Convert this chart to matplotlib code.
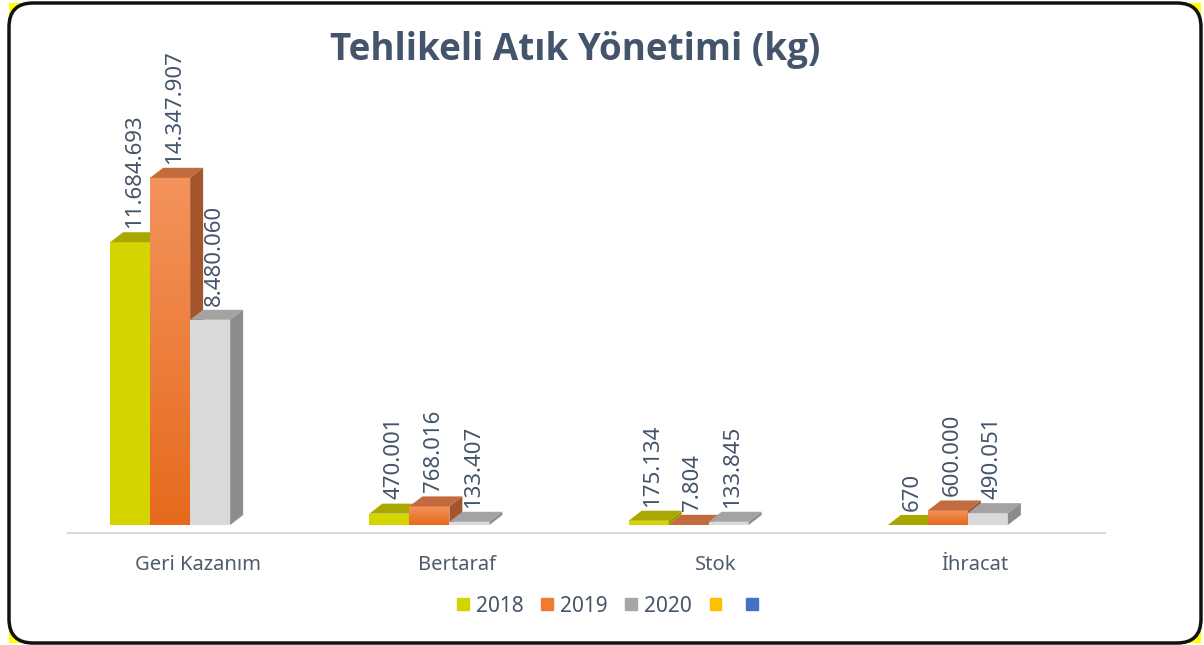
# Tehlikeli Atik Yonetimi - 3D style grouped bar chart
import numpy as np
import matplotlib.pyplot as plt
from matplotlib.patches import Polygon, Rectangle, FancyBboxPatch, Patch
from matplotlib.colors import LinearSegmentedColormap

plt.rcParams['font.family'] = ['Noto Sans', 'DejaVu Sans']

# data
categories = ['Geri Kazanım', 'Bertaraf', 'Stok', 'İhracat']
years = ['2018', '2019', '2020']
v2018 = [11684693, 470001, 175134, 670]
v2019 = [14347907, 768016, 7804, 600000]
v2020 = [8480060, 133407, 133845, 490051]
series = [v2018, v2019, v2020]

# colours: front, top, side
front_cols = ['#D4D400', None, '#D9D9D9']
top_cols = ['#A8A800', '#C26B3E', '#A3A3A3']
side_cols = ['#9C9C00', '#A5552B', '#8C8C8C']
orange_grad = LinearSegmentedColormap.from_list('og', ['#E56A1C', '#F4935C'])
text_col = '#44546A'

W, H = 1204, 645
fig = plt.figure(figsize=(W / 100, H / 100), dpi=100)

# background frame in pixel units: yellow corners, white rounded box with black border
bg = fig.add_axes([0, 0, 1, 1], zorder=-5)
bg.set_xlim(0, W)
bg.set_ylim(H, 0)
bg.axis('off')
bg.add_patch(Rectangle((9, 3), 1192, 640, facecolor='#FFFF00', edgecolor='none'))
bg.add_patch(FancyBboxPatch((9, 3), 1192, 640, boxstyle='round,pad=0,rounding_size=24',
                            facecolor='white', edgecolor='#111111', linewidth=2.5))

ax = fig.add_axes([68 / W, 112 / H, 1037 / W, 433 / H])
ax.patch.set_alpha(0)
y0 = -8 / 24.2e-6
ylim = (y0, y0 + 433 / 24.2e-6)

# bar sizes from pixels to data units
unit_px = 1037 / len(categories)
bar_w = 40 / unit_px
start = -87.5 / unit_px
ddx = 13 / unit_px
ddy = 10 / 24.2e-6

z = 1
for i, cat in enumerate(categories):
    for j, vals in enumerate(series):
        h = vals[i]
        x0 = i + start + j * bar_w
        x1 = x0 + bar_w
        # front face
        if front_cols[j] is None:
            grad = np.linspace(0, 1, 100).reshape(-1, 1)
            ax.imshow(grad, extent=[x0, x1, 0, h], origin='lower', aspect='auto',
                      cmap=orange_grad, zorder=z, interpolation='bilinear')
        else:
            ax.add_patch(Rectangle((x0, 0), bar_w, h, facecolor=front_cols[j],
                                   edgecolor='none', zorder=z))
        # top face
        ax.add_patch(Polygon([(x0, h), (x1, h), (x1 + ddx, h + ddy), (x0 + ddx, h + ddy)],
                             closed=True, facecolor=top_cols[j], edgecolor='none', zorder=z))
        # side face
        ax.add_patch(Polygon([(x1, 0), (x1 + ddx, ddy), (x1 + ddx, h + ddy), (x1, h)],
                             closed=True, facecolor=side_cols[j], edgecolor='none', zorder=z))
        z += 1
        # value label
        lbl = f"{h:,}".replace(',', '.')
        ax.annotate(lbl, (x0 + bar_w / 2 + ddx / 3, h + ddy), xytext=(0, 3),
                    textcoords='offset points', rotation=90, ha='center', va='bottom',
                    fontsize=16, color=text_col, zorder=100)

ax.set_xlim(-0.5, len(categories) - 0.5)
ax.set_ylim(*ylim)

ax.set_xticks(range(len(categories)), categories)
ax.tick_params(axis='x', length=0, pad=16, labelsize=14.5, labelcolor='#4F5B6B')
ax.set_yticks([])
for s in ['top', 'right', 'left']:
    ax.spines[s].set_visible(False)
ax.spines['bottom'].set_color('#D9D9D9')
ax.spines['bottom'].set_linewidth(1.5)

fig.text(575 / W, 1 - 50 / H, 'Tehlikeli Atık Yönetimi (kg)', ha='center', va='center',
         fontsize=26.5, fontweight='bold', color=text_col, family='Open Sans')

handles = [Patch(color='#D4D400'), Patch(color='#F07A30'), Patch(color='#A6A6A6'),
           Patch(color='#FFC000'), Patch(color='#4472C4')]
labels = years + ['', '']
fig.legend(handles, labels, loc='center', bbox_to_anchor=(611 / W, 1 - 606 / H), ncol=5,
           frameon=False, handlelength=0.55, handleheight=0.55, handletextpad=0.35,
           columnspacing=0.85, fontsize=15, labelcolor=text_col)

fig.savefig('out.png', dpi=100)
